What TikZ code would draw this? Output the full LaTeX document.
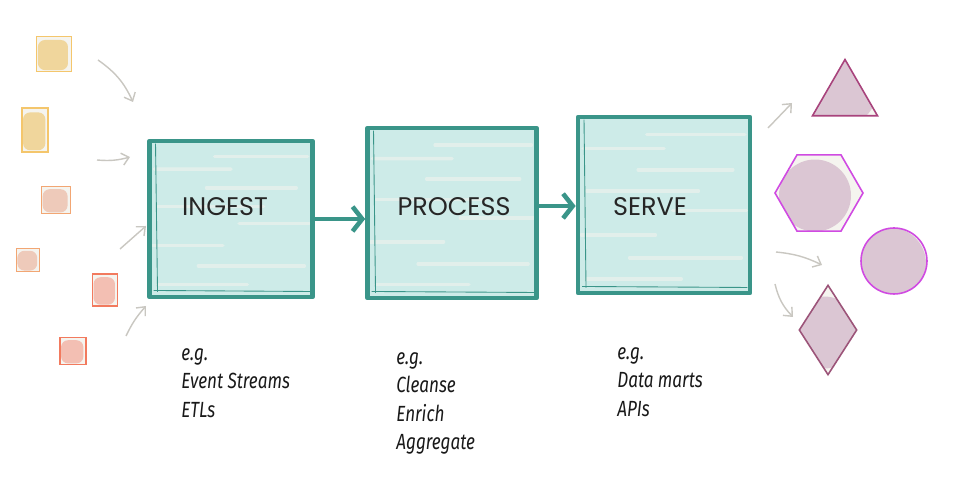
\documentclass[tikz,border=0pt]{standalone}
\usepackage{fontspec}
\setmainfont{Poppins}
\newfontfamily\notefont[FakeStretch=0.78]{Fira Sans}
\usetikzlibrary{shapes.geometric,arrows.meta,positioning,calc}
\definecolor{paper}{HTML}{F5F4EF}
\definecolor{tealline}{HTML}{3A9589}
\definecolor{tealwash}{HTML}{CDEBE8}
\definecolor{sketchgray}{HTML}{C9C7C1}
\definecolor{srcyellow}{HTML}{F4C66C}
\definecolor{srcorange}{HTML}{F2A673}
\definecolor{srcred}{HTML}{F27A5E}
\definecolor{blobyellow}{HTML}{EDC365}
\definecolor{blobpeach}{HTML}{EAAE98}
\definecolor{blobred}{HTML}{F29C8C}
\definecolor{trimauve}{HTML}{A8437C}
\definecolor{brightmag}{HTML}{D04AE2}
\definecolor{dustmauve}{HTML}{9C5479}
\definecolor{blobmauve}{HTML}{C6A2BC}

\tikzset{
  px/.style={x=0.02cm, y=-0.02cm},
  source/.style 2 args={draw=#1, line width=0.9pt, fill=paper, inner sep=0pt,
    path picture={\fill[#2, opacity=.6, rounded corners=4pt]
      ($(path picture bounding box.south west)!0.04!(path picture bounding box.north east)$) rectangle
      ($(path picture bounding box.south west)!0.9!(path picture bounding box.north east)$);}},
  streak/.style={draw=paper, line width=2pt, line cap=round, opacity=.55},
  stage/.style={draw=tealline, line width=2.7pt, fill=tealwash, inner sep=0pt, line join=round,
    path picture={
      \foreach \f/\a/\b in {0.08/0.05/0.6, 0.2/0.3/0.95, 0.33/0.02/0.45, 0.47/0.55/0.98,
                            0.58/0.05/0.7, 0.7/0.35/0.9, 0.82/0.03/0.5, 0.9/0.4/0.97}
        \draw[streak] ($($(path picture bounding box.south west)!\f!(path picture bounding box.north west)$)!\a!($(path picture bounding box.south east)!\f!(path picture bounding box.north east)$)$)
          -- ($($(path picture bounding box.south west)!\f!(path picture bounding box.north west)$)!\b!($(path picture bounding box.south east)!\f!(path picture bounding box.north east)$)$);
      \draw[tealline, line width=.5pt] ($(path picture bounding box.north west)+(0.12cm,-0.05cm)$) -- ($(path picture bounding box.south west)+(0.16cm,0.1cm)$);
      \draw[tealline, line width=.5pt] ($(path picture bounding box.south west)+(0.08cm,0.13cm)$) -- ($(path picture bounding box.south east)+(-0.05cm,0.11cm)$);
    }},
  stagetxt/.style={font=\fontsize{14.5}{17}\selectfont, text=black!85, inner sep=0pt},
  note/.style={font=\notefont\itshape\fontsize{12.5}{16.2}\selectfont, align=left, anchor=north west, inner sep=0pt, text=black!90},
  sketch/.style={draw=sketchgray, line width=0.8pt, -{Straight Barb[length=4pt,width=7pt]}},
  flow/.style={draw=tealline, line width=2.6pt, line cap=round, -{Straight Barb[length=5.5pt,width=14pt]}},
  target/.style 2 args={draw=#1, line width=0.9pt, fill=paper, inner sep=0pt,
    path picture={\fill[#2, opacity=.55] ([shift={(-0.08cm,-0.05cm)}]path picture bounding box.center) circle (0.72cm);}},
}

\begin{document}
\begin{tikzpicture}[px]
\path[use as bounding box, fill=white] (0,0) rectangle (954,489);

% sources
\node[source={srcyellow}{blobyellow}, minimum width=0.7cm, minimum height=0.7cm] (src1) at (54,54) {};
\node[source={srcyellow}{blobyellow}, minimum width=0.52cm, minimum height=0.88cm] (src2) at (35,130) {};
\node[source={srcorange}{blobpeach}, minimum width=0.58cm, minimum height=0.54cm] (src3) at (56,200) {};
\node[source={srcorange}{blobpeach}, minimum width=0.46cm, minimum height=0.46cm] (src4) at (28,260) {};
\node[source={srcred}{blobred}, minimum width=0.5cm, minimum height=0.64cm] (src5) at (105,290) {};
\node[source={srcred}{blobred}, minimum width=0.52cm, minimum height=0.54cm] (src6) at (73,351) {};

\coordinate (in1a) at (98,60);   \coordinate (in1b) at (133,102);
\coordinate (in2a) at (97,160);  \coordinate (in2b) at (130,157);
\coordinate (in3a) at (120,249); \coordinate (in3b) at (146,226);
\coordinate (in4a) at (126,336); \coordinate (in4b) at (146,306);
\draw[sketch] (in1a) to[bend left=15] (in1b);
\draw[sketch] (in2a) to[bend right=10] (in2b);
\draw[sketch] (in3a) -- (in3b);
\draw[sketch] (in4a) to[bend left=8] (in4b);

% stages
\node[stage, minimum width=3.26cm, minimum height=3.12cm] (ingest) at (231,219) {};
\node[stage, minimum width=3.38cm, minimum height=3.4cm] (process) at (452,213) {};
\node[stage, minimum width=3.44cm, minimum height=3.52cm] (serve) at (664,205) {};
\node[stagetxt] (ingesttxt) at (225,207) {INGEST};
\node[stagetxt] (processtxt) at (454,207) {PROCESS};
\node[stagetxt] (servetxt) at (650,207) {SERVE};

\draw[flow] (ingest.east) -- (ingest.east -| process.west);
\draw[flow] ([yshift=0.14cm]process.east) -- ([yshift=0.14cm]process.east -| serve.west);

% notes
\node[note] (ingestnote) at (181,348) {e.g.\\Event Streams\\ETLs};
\node[note] (processnote) at (396,352) {e.g.\\Cleanse\\Enrich\\Aggregate};
\node[note] (servenote) at (617,347) {e.g.\\Data marts\\APIs};

% targets
\node[target={trimauve}{blobmauve}, regular polygon, regular polygon sides=3, minimum size=1.5cm] (tri) at (845,97) {};
\node[target={brightmag}{blobmauve}, regular polygon, regular polygon sides=6, minimum size=1.76cm] (hex) at (819,193) {};
\node[target={brightmag}{blobmauve}, circle, minimum size=1.32cm] (disc) at (894,261) {};
\node[target={dustmauve}{blobmauve}, diamond, minimum width=1.16cm, minimum height=1.8cm] (rhomb) at (828,330) {};

\coordinate (out1a) at (768,128); \coordinate (out1b) at (792,103);
\coordinate (out3a) at (776,252); \coordinate (out3b) at (822,265);
\coordinate (out4a) at (775,284); \coordinate (out4b) at (793,317);
\draw[sketch] (out1a) -- (out1b);
\draw[sketch] (out3a) to[bend left=10] (out3b);
\draw[sketch] (out4a) to[bend right=15] (out4b);
\end{tikzpicture}
\end{document}
